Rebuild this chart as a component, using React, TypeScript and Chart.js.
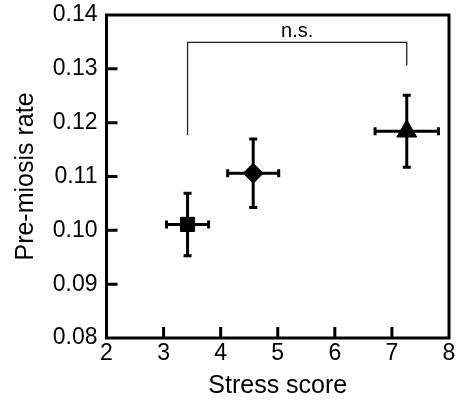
import React, { useEffect, useRef } from "react";
import { Chart, registerables } from "chart.js";

Chart.register(...registerables);

// ---- data ----
const xValues = [3.42, 4.57, 7.26];
const yValues = [0.1011, 0.1106, 0.1184];
const xErrors = [0.368, 0.447, 0.555];
const yErrors = [0.0058, 0.00635, 0.0067];
const pointStyles = ["rect", "rectRot", "triangle"];
const pointRadii = [10, 10, 11.5];

const xTickValues = [2, 3, 4, 5, 6, 7, 8];
const yTickValues = [0.08, 0.09, 0.1, 0.11, 0.12, 0.13, 0.14];

const bracketX = [3.42, 7.26];
const bracketBottoms = [0.1177, 0.1306];
const bracketTop = 0.1349;
const bracketLabel = "n.s.";

const xTitle = "Stress score";
const yTitle = "Pre-miosis rate";

const FONT = "'Liberation Sans', Arial, Helvetica, sans-serif";

const framePlugin = {
  id: "frameAndTicks",
  afterDatasetsDraw(chart: any) {
    const { ctx, chartArea, scales } = chart;
    const xs = scales.x;
    const ys = scales.y;
    ctx.save();
    ctx.strokeStyle = "#000";
    ctx.lineWidth = 3;
    ctx.lineCap = "butt";
    ctx.strokeRect(
      chartArea.left,
      chartArea.top,
      chartArea.right - chartArea.left,
      chartArea.bottom - chartArea.top
    );
    const tickLen = 11;
    ctx.beginPath();
    xTickValues.slice(1, -1).forEach((v) => {
      const px = xs.getPixelForValue(v);
      ctx.moveTo(px, chartArea.bottom);
      ctx.lineTo(px, chartArea.bottom - tickLen);
    });
    yTickValues.slice(1, -1).forEach((v) => {
      const py = ys.getPixelForValue(v);
      ctx.moveTo(chartArea.left, py);
      ctx.lineTo(chartArea.left + tickLen, py);
    });
    ctx.stroke();
    ctx.restore();
  },
};

const errorBarPlugin = {
  id: "errorBars",
  beforeDatasetsDraw(chart: any) {
    const { ctx, scales } = chart;
    const xs = scales.x;
    const ys = scales.y;
    const cap = 4;
    ctx.save();
    ctx.strokeStyle = "#000";
    ctx.lineWidth = 3;
    ctx.lineCap = "butt";
    xValues.forEach((xv, i) => {
      const yv = yValues[i];
      const cx = xs.getPixelForValue(xv);
      const cy = ys.getPixelForValue(yv);
      const x0 = xs.getPixelForValue(xv - xErrors[i]);
      const x1 = xs.getPixelForValue(xv + xErrors[i]);
      const y0 = ys.getPixelForValue(yv - yErrors[i]);
      const y1 = ys.getPixelForValue(yv + yErrors[i]);
      ctx.beginPath();
      ctx.moveTo(x0, cy);
      ctx.lineTo(x1, cy);
      ctx.moveTo(cx, y0);
      ctx.lineTo(cx, y1);
      ctx.moveTo(x0, cy - cap);
      ctx.lineTo(x0, cy + cap);
      ctx.moveTo(x1, cy - cap);
      ctx.lineTo(x1, cy + cap);
      ctx.moveTo(cx - cap, y0);
      ctx.lineTo(cx + cap, y0);
      ctx.moveTo(cx - cap, y1);
      ctx.lineTo(cx + cap, y1);
      ctx.stroke();
    });
    ctx.restore();
  },
};

const bracketPlugin = {
  id: "bracket",
  afterDatasetsDraw(chart: any) {
    const { ctx, scales } = chart;
    const xs = scales.x;
    const ys = scales.y;
    const xl = xs.getPixelForValue(bracketX[0]);
    const xr = xs.getPixelForValue(bracketX[1]);
    const yt = ys.getPixelForValue(bracketTop);
    const yl = ys.getPixelForValue(bracketBottoms[0]);
    const yr = ys.getPixelForValue(bracketBottoms[1]);
    ctx.save();
    ctx.strokeStyle = "#222";
    ctx.lineWidth = 1.3;
    ctx.beginPath();
    ctx.moveTo(xl, yl);
    ctx.lineTo(xl, yt);
    ctx.lineTo(xr, yt);
    ctx.lineTo(xr, yr);
    ctx.stroke();
    ctx.fillStyle = "#000";
    ctx.font = `20px ${FONT}`;
    ctx.textAlign = "center";
    ctx.textBaseline = "alphabetic";
    ctx.fillText(bracketLabel, (xl + xr) / 2, yt - 5);
    ctx.restore();
  },
};

export default function App() {
  const canvasRef = useRef<HTMLCanvasElement | null>(null);

  useEffect(() => {
    if (!canvasRef.current) return;
    const chart = new Chart(canvasRef.current, {
      type: "scatter",
      data: {
        datasets: [
          {
            data: xValues.map((x, i) => ({ x, y: yValues[i] })),
            pointStyle: pointStyles as any,
            pointRadius: pointRadii,
            pointHoverRadius: pointRadii,
            backgroundColor: "#000",
            borderColor: "#000",
            borderWidth: 1,
          },
        ],
      },
      options: {
        responsive: false,
        animation: false,
        events: [],
        layout: { autoPadding: false, padding: { left: 0, top: 15, right: 7, bottom: 0 } },
        plugins: {
          legend: { display: false },
          tooltip: { enabled: false },
        },
        scales: {
          x: {
            type: "linear",
            min: 2,
            max: 8,
            border: { display: false },
            grid: { display: false, drawTicks: false },
            afterBuildTicks: (s: any) => {
              s.ticks = xTickValues.map((v) => ({ value: v }));
            },
            afterFit: (s: any) => {
              s.height = 64;
              s.paddingLeft = 0;
              s.paddingRight = 0;
            },
            ticks: {
              color: "#000",
              padding: 2,
              maxRotation: 0,
              autoSkip: false,
              font: { family: FONT, size: 23 },
              callback: (v: any) => String(v),
            },
            title: {
              display: true,
              text: xTitle,
              color: "#000",
              font: { family: FONT, size: 25 },
              padding: { top: 0, bottom: 1 },
            },
          },
          y: {
            type: "linear",
            min: 0.08,
            max: 0.14,
            border: { display: false },
            grid: { display: false, drawTicks: false },
            afterBuildTicks: (s: any) => {
              s.ticks = yTickValues.map((v) => ({ value: v }));
            },
            afterFit: (s: any) => {
              s.width = 106.5;
              s.paddingTop = 0;
              s.paddingBottom = 0;
            },
            ticks: {
              color: "#000",
              padding: 9,
              autoSkip: false,
              font: { family: FONT, size: 23 },
              callback: (v: any) => Number(v).toFixed(2),
            },
            title: {
              display: true,
              text: yTitle,
              color: "#000",
              font: { family: FONT, size: 25 },
              padding: { top: 11, bottom: 0 },
            },
          },
        },
      },
      plugins: [errorBarPlugin, framePlugin, bracketPlugin],
    });
    return () => chart.destroy();
  }, []);

  return (
    <div style={{ position: "fixed", left: 0, top: 0, width: 456, height: 402, background: "#fff" }}>
      <canvas ref={canvasRef} width={456} height={402} />
    </div>
  );
}
